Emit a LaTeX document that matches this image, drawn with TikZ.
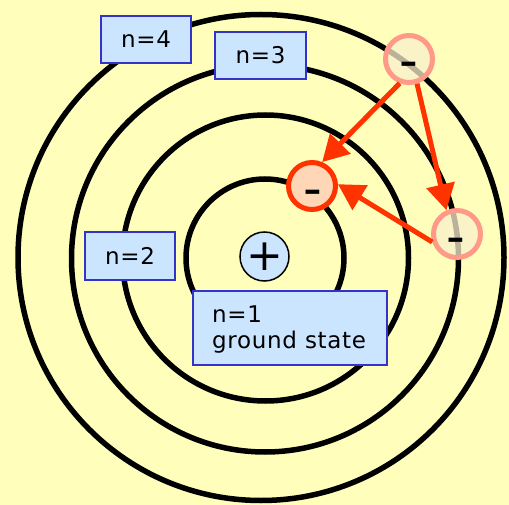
\documentclass[tikz,border=0pt]{standalone}
\usepackage{fontspec}
\newfontfamily\lblfont{DejaVu Sans}[LetterSpace=3]
\newfontfamily\signfont{DejaVu Sans}
\usetikzlibrary{arrows.meta}
\definecolor{bgY}{RGB}{255,255,187}
\definecolor{boxfill}{RGB}{204,229,255}
\definecolor{boxline}{RGB}{51,51,204}
\definecolor{elred}{RGB}{255,51,0}
\definecolor{elpeach}{RGB}{255,214,182}
\definecolor{elsalmon}{RGB}{255,153,136}
\definecolor{elfill}{RGB}{250,240,205}
\begin{document}
\begin{tikzpicture}[x=1pt,y=-1pt,
  orbit/.style={draw=black,line width=5.5pt},
  lvlbox/.style={draw=boxline,fill=boxfill,line width=2pt,inner sep=0pt,
    font=\lblfont\fontsize{23}{25.6}\selectfont},
  lbltext/.style={inner sep=0pt,font=\lblfont\fontsize{23}{25.6}\selectfont},
  nucleus/.style={circle,draw=black,fill=boxfill,line width=1.5pt,inner sep=0pt,
    minimum size=49pt,font=\signfont\fontsize{44}{44}\selectfont},
  elground/.style={circle,draw=elred,fill=elpeach,line width=5pt,inner sep=0pt,minimum size=47pt},
  elexcited/.style={circle,draw=elsalmon,fill=elfill,fill opacity=0.75,line width=5pt,inner sep=0pt,minimum size=47pt},
  minussign/.style={inner sep=0pt,anchor=base,font=\signfont\fontsize{52}{52}\selectfont,text=black},
  elarrow/.style={draw=elred,line width=5pt,-{Triangle[length=26pt,width=28pt]}}
]
\useasboundingbox (0,0) rectangle (509,505);
\fill[bgY] (0,0) rectangle (509,505);

% orbits
\draw[orbit] (261,257.5) circle[radius=243];
\draw[orbit] (265,258.5) circle[radius=193.5];
\draw[orbit] (265.5,258) circle[radius=143];
\draw[orbit] (265,258) circle[radius=79];

% level boxes
\node[lvlbox,minimum width=90pt,minimum height=47pt] (b4) at (146,39.5) {n=4};
\node[lvlbox,minimum width=91pt,minimum height=47pt] (b3) at (260.5,55.5) {n=3};
\node[lvlbox,minimum width=90pt,minimum height=48pt] (b2) at (130,256) {n=2};
\node[lvlbox,minimum width=194pt,minimum height=74pt] (b1) at (290,328) {};
\node[lbltext,anchor=base west,align=left] (t1) at (212,348.5) {n=1\\ground state};

% nucleus
\node[nucleus] (nuc) at (264.5,256.5) {+};

% electrons
\node[elground] (mid) at (312,186) {};
\node[elexcited] (top) at (409,59) {};
\node[elexcited] (rgt) at (457,234) {};
\node[minussign] (mm) at (312.5,206.5) {-};
\node[minussign] (mt) at (408.5,78.5) {-};
\node[minussign] (mr) at (456,254.5) {-};

% transitions
\draw[elarrow] (top.249) -- (mid.67);
\draw[elarrow] (top.288) -- (rgt.114);
\draw[elarrow] (rgt.198) -- (mid.4);
\end{tikzpicture}
\end{document}
